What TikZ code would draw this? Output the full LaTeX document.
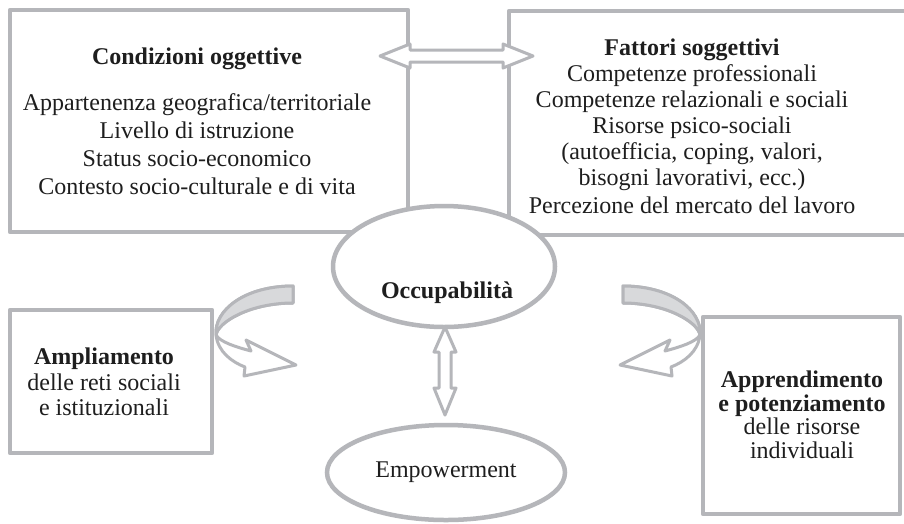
\documentclass[tikz,border=0pt]{standalone}
\usepackage{fontspec}
\setmainfont{Liberation Serif}
\usetikzlibrary{shapes.geometric}
\definecolor{lgray}{RGB}{181,182,186}
\definecolor{bandgray}{RGB}{216,217,219}
\definecolor{inkc}{RGB}{30,30,30}
\tikzset{
  boxnode/.style={rectangle, draw=lgray, line width=4.5pt, inner sep=0pt, outer sep=0pt, line join=round},
  ell/.style={ellipse, draw=lgray, line width=4.5pt, fill=white, inner sep=0pt, outer sep=0pt},
  txt/.style={align=center, inner sep=0pt, text=inkc},
  arrowshape/.style={draw=lgray, line width=3pt, fill=white, line join=round},
  bandshape/.style={draw=lgray, line width=3pt, fill=bandgray, line join=round},
}
\begin{document}
\begin{tikzpicture}[x=1pt,y=-1pt]
\useasboundingbox (0,0) rectangle (904,523);
\fill[white] (0,0) rectangle (904,523);

% boxes
\node[boxnode, minimum width=398pt, minimum height=222pt] (cond) at (209,121) {};
\node[boxnode, minimum width=403pt, minimum height=224pt] (fatt) at (710.5,123) {};
\node[boxnode, minimum width=202pt, minimum height=143pt] (ampl) at (111,381.5) {};
\node[boxnode, minimum width=197pt, minimum height=197pt] (appr) at (801.5,415.5) {};

% ellipses
\node[ell, minimum width=222pt, minimum height=121pt] (occ) at (444,266.5) {};
\node[ell, minimum width=238pt, minimum height=95pt, txt, font=\fontsize{24}{27}\selectfont] (emp) at (446,472.5) {Empowerment};

% texts
\node[txt, font=\fontsize{24}{28}\selectfont] (condtxt) at (197,121)
  {\textbf{Condizioni oggettive}\\[18pt]
   Appartenenza geografica/territoriale\\
   Livello di istruzione\\
   Status socio-economico\\
   Contesto socio-culturale e di vita};
\node[txt, font=\fontsize{24}{26}\selectfont] (fatttxt) at (692,126)
  {\textbf{Fattori soggettivi}\\
   Competenze professionali\\
   Competenze relazionali e sociali\\
   Risorse psico-sociali\\
   (autoefficia, coping, valori,\\
   bisogni lavorativi, ecc.)\\[2pt]
   Percezione del mercato del lavoro};
\node[txt, font=\fontsize{24}{25.5}\selectfont] (ampltxt) at (104,382)
  {\textbf{Ampliamento}\\ delle reti sociali\\ e istituzionali};
\node[txt, font=\fontsize{24}{23.5}\selectfont] (apprtxt) at (802,415)
  {\textbf{Apprendimento}\\ \textbf{e potenziamento}\\ delle risorse\\ individuali};
\node[txt, font=\fontsize{24}{27}\selectfont\bfseries] (occtxt) at (447,293) {Occupabilità};

% horizontal double arrow between top boxes
\path[arrowshape] (380,56) -- (410,44) -- (410,50) -- (503,50) -- (503,44) -- (533,56)
  -- (503,68) -- (503,62) -- (410,62) -- (410,68) -- cycle;

% vertical double arrow between ellipses
\path[arrowshape] (445,327) -- (456,352) -- (451,352) -- (451,388) -- (456,388) -- (445,415)
  -- (434,388) -- (439,388) -- (439,352) -- (434,352) -- cycle;

% curved arrow, left
\path[arrowshape] (293,286) .. controls (245,286) and (214,310) .. (216,335)
  .. controls (218,352) and (232,362) .. (245,367)
  -- (244,376) -- (296,365) -- (246,340) -- (251,351)
  .. controls (236,347) and (220,342) .. (216,335)
  .. controls (218,322) and (250,303) .. (293,303) -- cycle;
\path[bandshape] (293,286) .. controls (245,286) and (214,310) .. (216,335)
  .. controls (218,322) and (250,303) .. (293,303) -- cycle;

% curved arrow, right (mirror)
\path[arrowshape] (623,286) .. controls (671,286) and (702,310) .. (700,335)
  .. controls (698,352) and (684,362) .. (671,367)
  -- (672,376) -- (620,365) -- (670,340) -- (665,351)
  .. controls (680,347) and (696,342) .. (700,335)
  .. controls (698,322) and (666,303) .. (623,303) -- cycle;
\path[bandshape] (623,286) .. controls (671,286) and (702,310) .. (700,335)
  .. controls (698,322) and (666,303) .. (623,303) -- cycle;
\end{tikzpicture}
\end{document}
